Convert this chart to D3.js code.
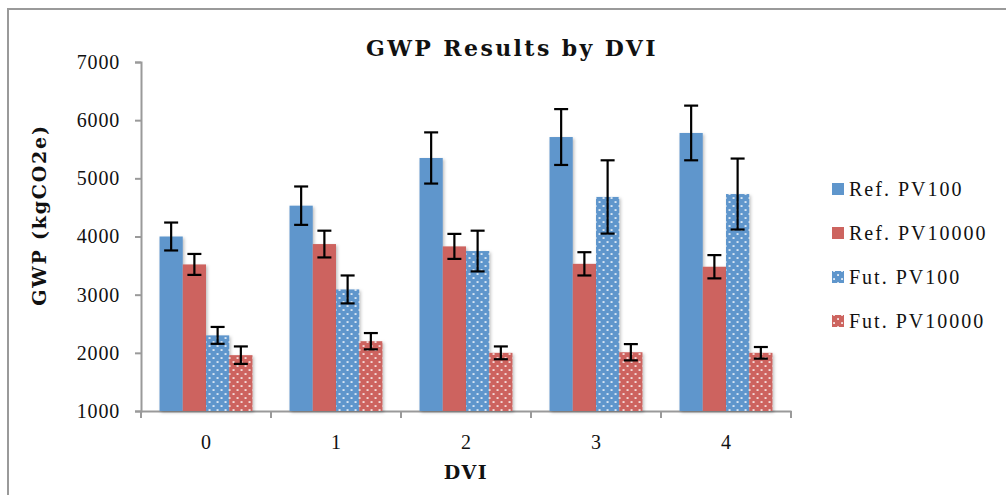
<!DOCTYPE html>
<html>
<head>
<meta charset="utf-8">
<script src="https://cdn.jsdelivr.net/npm/d3@7"></script>
<style>
  html, body { margin: 0; padding: 0; background: #fff; }
  svg { display: block; }
  text { font-family: "Liberation Serif", "DejaVu Serif", serif; fill: #111; }
  .heavy { font-family: "DejaVu Serif", "Liberation Serif", serif; font-weight: bold; }
</style>
</head>
<body>
<div id="chart"></div>
<script>
// GWP by design variant index, four scenarios with ± error
const categories = ["0", "1", "2", "3", "4"];
const seriesNames = ["Ref. PV100", "Ref. PV10000", "Fut. PV100", "Fut. PV10000"];
const refPV100 = [4000, 4530, 5350, 5710, 5780];
const refPV100Err = [240, 330, 440, 480, 470];
const refPV10000 = [3520, 3870, 3830, 3530, 3480];
const refPV10000Err = [180, 230, 215, 200, 200];
const futPV100 = [2300, 3090, 3750, 4680, 4730];
const futPV100Err = [145, 240, 350, 630, 610];
const futPV10000 = [1960, 2200, 2000, 2010, 2000];
const futPV10000Err = [150, 140, 110, 140, 100];
const yTicks = [1000, 2000, 3000, 4000, 5000, 6000, 7000];

const values = [refPV100, refPV10000, futPV100, futPV10000];
const errors = [refPV100Err, refPV10000Err, futPV100Err, futPV10000Err];

const W = 1006, H = 495;
const blue = "#5F96CC", red = "#CD645F";
const fills = [blue, red, "url(#dotBlue)", "url(#dotRed)"];

const svg = d3.select("#chart").append("svg")
  .attr("width", W).attr("height", H);

svg.append("rect").attr("width", W).attr("height", H).attr("fill", "#fff");

// outer chart frame
svg.append("rect")
  .attr("x", 8).attr("y", 9).attr("width", W + 20).attr("height", H + 20)
  .attr("fill", "none").attr("stroke", "#9a9a9a").attr("stroke-width", 2);

const defs = svg.append("defs");
function dotPattern(id, color) {
  const p = defs.append("pattern").attr("id", id)
    .attr("patternUnits", "userSpaceOnUse").attr("width", 8).attr("height", 8);
  p.append("rect").attr("width", 8).attr("height", 8).attr("fill", color);
  p.append("rect").attr("x", 1.2).attr("y", 1.2).attr("width", 1.7).attr("height", 1.7).attr("fill", "#fff");
  p.append("rect").attr("x", 5.2).attr("y", 5.2).attr("width", 1.7).attr("height", 1.7).attr("fill", "#fff");
}
dotPattern("dotBlue", blue);
dotPattern("dotRed", red);

const shadow = defs.append("filter").attr("id", "shadow")
  .attr("x", "-20%").attr("y", "-5%").attr("width", "150%").attr("height", "115%");
shadow.append("feDropShadow").attr("dx", 1.5).attr("dy", 1.5)
  .attr("stdDeviation", 1.5).attr("flood-color", "#000").attr("flood-opacity", 0.25);

// scales
const plotLeft = 141, plotRight = 791, plotTop = 62, plotBottom = 411;
const y = d3.scaleLinear().domain([1000, 7000]).range([plotBottom, plotTop]);
const x0 = d3.scaleBand().domain(categories).range([plotLeft, plotRight])
  .paddingInner(0.285).paddingOuter(0.1425);
const x1 = d3.scaleBand().domain(d3.range(seriesNames.length)).range([0, x0.bandwidth()]);

// y axis
const yAxis = svg.append("g").attr("transform", `translate(${plotLeft},0)`)
  .call(d3.axisLeft(y).tickValues(yTicks).tickSize(6).tickPadding(15).tickFormat(d3.format("d")));
yAxis.select(".domain").attr("stroke", "#9a9a9a").attr("stroke-width", 2);
yAxis.selectAll(".tick line").attr("stroke", "#9a9a9a").attr("stroke-width", 2);
yAxis.selectAll(".tick text").attr("font-size", 20).attr("font-family", "Liberation Serif")
  .attr("letter-spacing", 0.8).attr("fill", "#111");

// x axis: labels at group centres, ticks at group boundaries
const step = x0.step();
const xAxis = svg.append("g").attr("transform", `translate(0,${plotBottom})`)
  .call(d3.axisBottom(x0).tickSize(0).tickPadding(24));
xAxis.select(".domain").attr("stroke", "#9a9a9a").attr("stroke-width", 2);
xAxis.selectAll(".tick text").attr("font-size", 20).attr("font-family", "Liberation Serif").attr("fill", "#111");
const bounds = d3.range(categories.length + 1).map(i => plotLeft + i * step);
xAxis.selectAll("line.bound").data(bounds).join("line").attr("class", "bound")
  .attr("x1", d => d).attr("x2", d => d).attr("y1", 0).attr("y2", 7)
  .attr("stroke", "#9a9a9a").attr("stroke-width", 2);

// bars
const groups = svg.append("g").selectAll("g").data(categories).join("g")
  .attr("transform", d => `translate(${x0(d)},0)`);

groups.selectAll("rect").data((c, ci) => values.map((s, si) => ({ si, v: s[ci] })))
  .join("rect")
  .attr("x", d => x1(d.si))
  .attr("width", x1.bandwidth())
  .attr("y", d => y(d.v))
  .attr("height", d => y(1000) - y(d.v))
  .attr("fill", d => fills[d.si])
  .attr("filter", "url(#shadow)");

// error bars
const errG = groups.selectAll("g.err").data((c, ci) => values.map((s, si) => ({ si, v: s[ci], e: errors[si][ci] })))
  .join("g").attr("class", "err")
  .attr("transform", d => `translate(${x1(d.si) + x1.bandwidth() / 2},0)`);
errG.append("line").attr("y1", d => y(d.v + d.e)).attr("y2", d => y(d.v - d.e));
errG.append("line").attr("x1", -7).attr("x2", 7).attr("y1", d => y(d.v + d.e)).attr("y2", d => y(d.v + d.e));
errG.append("line").attr("x1", -7).attr("x2", 7).attr("y1", d => y(d.v - d.e)).attr("y2", d => y(d.v - d.e));
errG.selectAll("line").attr("stroke", "#000").attr("stroke-width", 2.2);

// title and axis titles
svg.append("text").attr("class", "heavy").attr("x", 512).attr("y", 56).attr("text-anchor", "middle")
  .attr("font-size", 22).attr("letter-spacing", 2.4).text("GWP Results by DVI");
svg.append("text").attr("class", "heavy").attr("transform", "translate(46,215) rotate(-90)")
  .attr("text-anchor", "middle").attr("font-size", 19).attr("letter-spacing", 1.8)
  .text("GWP (kgCO2e)");
svg.append("text").attr("class", "heavy").attr("x", 466).attr("y", 479).attr("text-anchor", "middle")
  .attr("font-size", 19).attr("letter-spacing", 1.5).text("DVI");

// legend
const legendRows = [189, 233, 277, 321];
const legend = svg.append("g").selectAll("g").data(seriesNames).join("g")
  .attr("transform", (d, i) => `translate(832,${legendRows[i]})`);
legend.append("rect").attr("x", 0).attr("y", -6).attr("width", 12).attr("height", 12)
  .attr("fill", (d, i) => fills[i]);
legend.append("text").attr("x", 17).attr("y", 7).attr("font-size", 20)
  .attr("letter-spacing", 2).text(d => d);
</script>
</body>
</html>
